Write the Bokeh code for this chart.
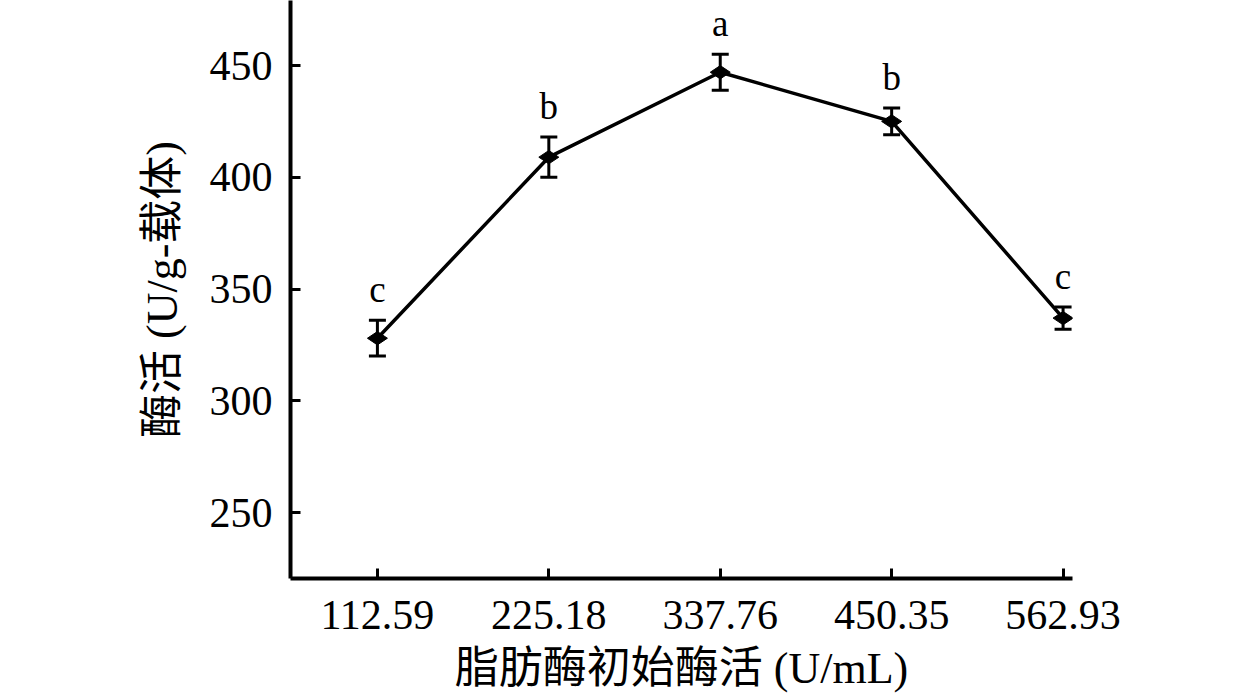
from bokeh.plotting import figure
from bokeh.models import ColumnDataSource, FixedTicker, Range1d, Whisker, TeeHead, LabelSet
from bokeh.embed import file_html
from bokeh.resources import INLINE
import math

# data
concentrations = ["112.59", "225.18", "337.76", "450.35", "562.93"]
activity = [328, 409, 447, 425, 337]
error = [8, 9, 8, 6, 5]
letters = ["c", "b", "a", "b", "c"]
y_ticks = [250, 300, 350, 400, 450]

xpos = list(range(1, len(concentrations) + 1))
src = ColumnDataSource(dict(
    x=xpos, y=activity,
    lo=[a - e for a, e in zip(activity, error)],
    hi=[a + e for a, e in zip(activity, error)],
    lab=letters,
))

FONT = "'Liberation Serif', 'Times New Roman', 'Noto Sans CJK SC'"

p = figure(width=1260, height=697, output_backend="svg", toolbar_location=None,
           x_range=Range1d(0.493, 5.055), y_range=Range1d(220.5, 479.1),
           min_border_left=290, min_border_right=188, min_border_top=0,
           min_border_bottom=119)
p.outline_line_color = None
p.grid.visible = False
p.background_fill_color = "white"
p.border_fill_color = "white"

p.line("x", "y", source=src, line_color="black", line_width=3.5)
p.add_layout(Whisker(base="x", lower="lo", upper="hi", source=src,
                     line_color="black", line_width=3,
                     upper_head=TeeHead(size=17, line_width=3, line_color="black"),
                     lower_head=TeeHead(size=17, line_width=3, line_color="black")))
p.scatter("x", "y", source=src, marker="diamond", size=20, angle=math.pi / 2,
          fill_color="black", line_color="black")
p.add_layout(LabelSet(x="x", y="hi", text="lab", source=src, text_align="center",
                      text_baseline="alphabetic", y_offset=18,
                      text_font="Liberation Serif", text_font_size="37px",
                      text_color="black"))

xa = p.xaxis[0]
xa.ticker = FixedTicker(ticks=xpos)
xa.major_label_overrides = {i: c for i, c in zip(xpos, concentrations)}
xa.axis_label = "脂肪酶初始酶活 (U/mL)"
ya = p.yaxis[0]
ya.ticker = FixedTicker(ticks=y_ticks)
ya.axis_label = "酶活 (U/g-载体)"

for ax in (xa, ya):
    ax.axis_line_width = 4
    ax.axis_line_color = "black"
    ax.major_tick_line_width = 3
    ax.major_tick_line_color = "black"
    ax.major_tick_in = 10
    ax.major_tick_out = 0
    ax.minor_tick_line_color = None
    ax.major_label_text_font = FONT
    ax.major_label_text_font_size = "42px"
    ax.major_label_text_color = "black"
    ax.axis_label_text_font = FONT
    ax.axis_label_text_font_size = "44px"
    ax.axis_label_text_font_style = "normal"
    ax.axis_label_text_color = "black"

xa.major_label_standoff = 22
xa.axis_label_standoff = 12
ya.major_label_standoff = 18
ya.axis_label_standoff = 20

open("out.html", "w").write(file_html(p, INLINE))
